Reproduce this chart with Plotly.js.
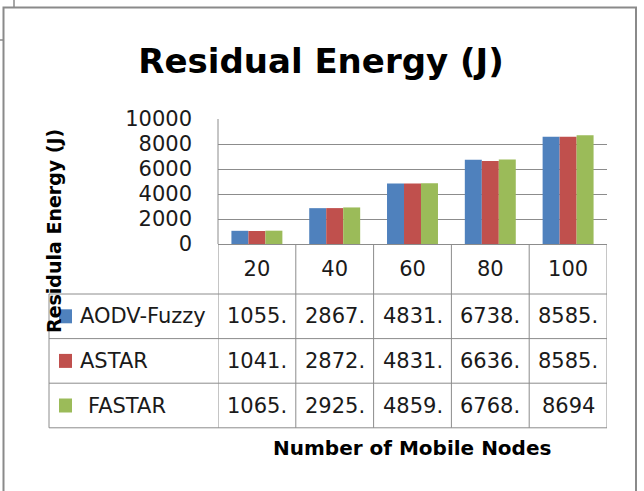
<!DOCTYPE html>
<html>
<head>
<meta charset="utf-8">
<script src="https://cdn.plot.ly/plotly-3.0.1.min.js"></script>
<style>
  body { margin: 0; background: #fff; }
  #chart { width: 644px; height: 491px; }
</style>
</head>
<body>
<div id="chart"></div>
<script>
// Residual energy per number of mobile nodes
var nodes = ["20", "40", "60", "80", "100"];
var seriesNames = ["AODV-Fuzzy", "ASTAR", "FASTAR"];
var aodvFuzzy = [1055, 2867, 4831, 6738, 8585];
var astar = [1041, 2872, 4831, 6636, 8585];
var fastar = [1065, 2925, 4859, 6768, 8694];
// what the data table shows (Excel cut the decimals off)
var aodvFuzzyText = ["1055.", "2867.", "4831.", "6738.", "8585."];
var astarText = ["1041.", "2872.", "4831.", "6636.", "8585."];
var fastarText = ["1065.", "2925.", "4859.", "6768.", "8694"];

var colors = ["#4F81BD", "#C0504D", "#9BBB59"];
var allValues = [aodvFuzzy, astar, fastar];
var allText = [aodvFuzzyText, astarText, fastarText];

var W = 644, H = 491;
function px(x) { return x / W; }
function py(y) { return 1 - y / H; }

var font = "DejaVu Sans, sans-serif";
var txtCol = "#1a1a1a";
var lineCol = "#8c8c8c";

// plot / table geometry in pixels
var plotL = 218, plotR = 607, plotT = 119, plotB = 244;
var catRowB = 294, rowH = 44.6, tableL = 49;

var data = [];
for (var k = 0; k < 3; k++) {
  data.push({
    type: "bar",
    name: seriesNames[k],
    x: nodes,
    y: allValues[k],
    marker: { color: colors[k] },
    hoverinfo: "none"
  });
}

var shapes = [];
var annotations = [];

// outer chart frame and the little bits of neighbouring frames
shapes.push({ type: "rect", xref: "paper", yref: "paper",
  x0: px(3.5), x1: px(636), y0: py(7.5), y1: py(520),
  line: { color: "#8a8a8a", width: 2 } });
shapes.push({ type: "line", xref: "paper", yref: "paper",
  x0: px(14), x1: px(14), y0: py(0), y1: py(7), line: { color: "#8a8a8a", width: 1.5 } });
shapes.push({ type: "line", xref: "paper", yref: "paper",
  x0: px(0), x1: px(3), y0: py(40), y1: py(40), line: { color: "#8a8a8a", width: 1.5 } });

// left edge of the plot area
shapes.push({ type: "line", xref: "paper", yref: "paper",
  x0: px(plotL), x1: px(plotL), y0: py(plotT), y1: py(plotB), line: { color: lineCol, width: 1 } });

// data table: column lines follow the category axis
var tableB = catRowB + 3 * rowH;
for (var i = 0; i <= nodes.length; i++) {
  shapes.push({ type: "line", xref: "x", yref: "paper",
    x0: i - 0.5, x1: i - 0.5, y0: py(plotB), y1: py(tableB), line: { color: lineCol, width: 1 } });
}
shapes.push({ type: "line", xref: "paper", yref: "paper",
  x0: px(tableL), x1: px(tableL), y0: py(catRowB), y1: py(tableB), line: { color: lineCol, width: 1 } });
for (var r = 0; r <= 3; r++) {
  var yy = catRowB + r * rowH;
  shapes.push({ type: "line", xref: "paper", yref: "paper",
    x0: px(tableL), x1: px(plotR), y0: py(yy), y1: py(yy), line: { color: lineCol, width: 1 } });
}

for (var k = 0; k < 3; k++) {
  var yc = catRowB + (k + 0.5) * rowH;
  // legend key
  shapes.push({ type: "rect", xref: "paper", yref: "paper",
    x0: px(59), x1: px(72), y0: py(yc - 7), y1: py(yc + 7),
    fillcolor: colors[k], line: { width: 0 } });
  annotations.push({ xref: "paper", yref: "paper", x: px(k === 2 ? 86 : 78), y: py(yc),
    xanchor: "left", yanchor: "middle", showarrow: false, text: seriesNames[k],
    font: { family: font, size: 21, color: txtCol } });
  for (var i = 0; i < nodes.length; i++) {
    annotations.push({ xref: "x", yref: "paper", x: i, y: py(yc),
      xanchor: "center", yanchor: "middle", showarrow: false, text: allText[k][i],
      font: { family: font, size: 21, color: txtCol } });
  }
}

// axis titles
annotations.push({ xref: "paper", yref: "paper", x: px(54), y: py(231),
  xanchor: "center", yanchor: "middle", showarrow: false, textangle: -90,
  text: "<b>Residula Energy (J)</b>", font: { family: font, size: 19, color: "#000" } });
annotations.push({ xref: "paper", yref: "paper", x: px(412), y: py(448),
  xanchor: "center", yanchor: "middle", showarrow: false,
  text: "<b>Number of Mobile Nodes</b>", font: { family: font, size: 20, color: "#000" } });

var layout = {
  width: W,
  height: H,
  margin: { l: 0, r: 0, t: 0, b: 0 },
  paper_bgcolor: "#fff",
  plot_bgcolor: "#fff",
  showlegend: false,
  barmode: "group",
  bargap: 0.345,
  bargroupgap: 0,
  title: {
    text: "<b>Residual Energy (J)</b>",
    xref: "paper", yref: "paper",
    x: px(321), xanchor: "center",
    y: py(61), yanchor: "middle",
    font: { family: font, size: 34, color: "#000" }
  },
  xaxis: {
    type: "category",
    domain: [px(plotL), px(plotR)],
    range: [-0.5, 4.5],
    showgrid: false, showline: false, zeroline: false,
    ticks: "",
    ticklabelstandoff: 10,
    tickfont: { family: font, size: 21, color: txtCol }
  },
  yaxis: {
    domain: [py(plotB), py(plotT)],
    range: [0, 10000],
    dtick: 2000,
    tickformat: "d",
    showline: false,
    gridcolor: lineCol, gridwidth: 1,
    zeroline: true, zerolinecolor: lineCol, zerolinewidth: 1,
    ticks: "",
    ticklabelstandoff: 25,
    tickfont: { family: font, size: 21, color: txtCol }
  },
  shapes: shapes,
  annotations: annotations
};

Plotly.newPlot("chart", data, layout, { staticPlot: true, displayModeBar: false });
</script>
</body>
</html>
